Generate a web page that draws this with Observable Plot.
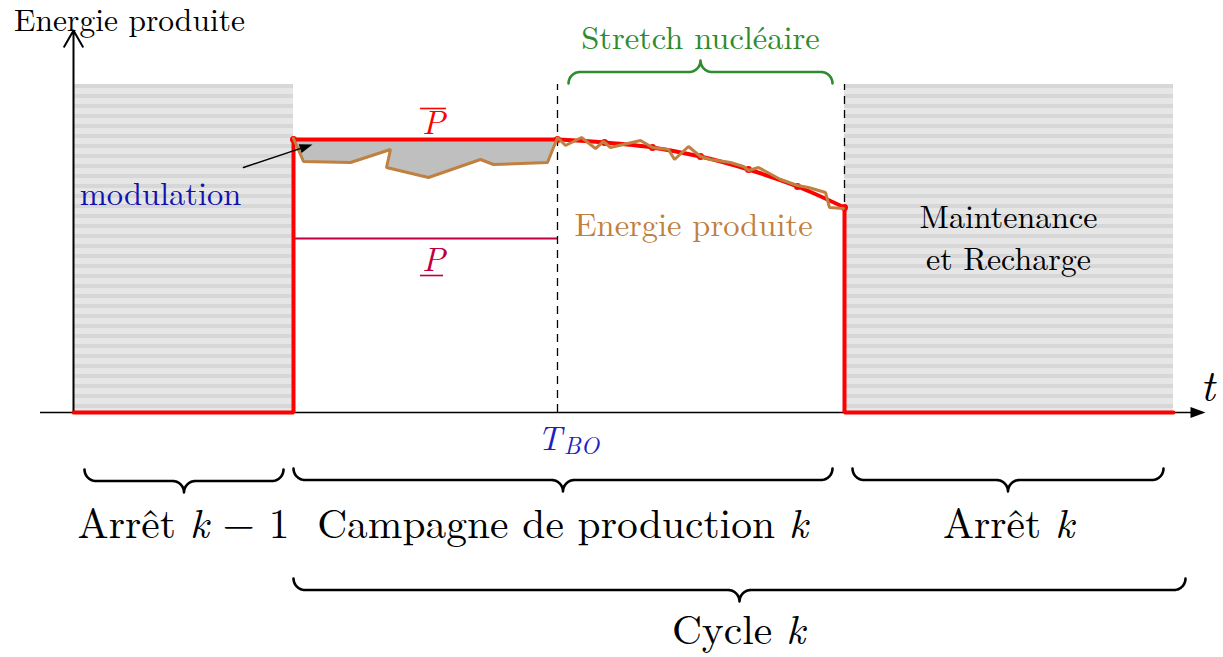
<!DOCTYPE html>
<html><head><meta charset="utf-8">
<script src="https://cdn.jsdelivr.net/npm/d3@7"></script>
<script src="https://cdn.jsdelivr.net/npm/@observablehq/plot@0.6"></script>
<style>
body{margin:0;background:#fff}
svg text, svg tspan{font-family:"Latin Modern Roman","Liberation Serif",serif !important}
</style>
</head><body><div id="chart"></div><script>
// ---- data (time on x, produced power on y; origin at the axes crossing) ----
const shutdownStart = [0, 771];
const shutdownEnd = [220, 1100];
const campaignStart = 220, T_BO = 484, campaignEnd = 771;
const Pmax = 273, Pmin = 174, shutdownLevel = 328;
const stretchT = [484, 531, 579, 627, 675, 724, 771];
const stretchP = [273, 270, 265, 256, 243, 226, 205];
const prodT = [220,230,277,317,313,355,407,420,474,484,492,508,522,530,537,567,579,595,601,615,627,637,657,670,675,685,707,724,735,752,756,770];
const prodP = [274,251,250,263,245,235,253,248,250,275,267,275,264,271,265,272,265,263,253,266,256,253,250,246,242,245,233,227,225,220,205,204];
// braces
const braceX1 = [11, 220, 779, 220, 495];
const braceX2 = [210, 759, 1090, 1112, 759];
const braceY = [-57, -56, -56, -166, 329];
const braceDir = [-1, -1, -1, -1, 1];
const braceColor = ["#000", "#000", "#000", "#000", "#2e8b2e"];
// labels
const labelText = ["Arrêt *k* − 1", "Campagne de production *k*", "Arrêt *k*", "Cycle *k*"];
const labelX = [110, 489, 935, 665];
const labelY = [-112, -112, -112, -218];
// "modulation" pointer (from, to)
const pointerFrom = [170, 245], pointerTo = [239, 268];

// ---- derived shapes ----
const redStep1 = [[0, 0], [campaignStart, 0], [campaignStart, Pmax], [T_BO, Pmax]];
const redStep2 = [[campaignEnd, stretchP[stretchP.length - 1]], [campaignEnd, 0], [shutdownEnd[1], 0]];
const stretch = stretchT.map((t, i) => [t, stretchP[i]]);
const prod = prodT.map((t, i) => ({t, p: prodP[i]}));
const modulationArea = prod.filter(d => d.t <= T_BO);
const redDots = [[campaignStart, Pmax], ...stretch];

function bracePoints(x1, x2, y, d, r, id) {
  const pts = [];
  const xm = (x1 + x2) / 2, n = 10;
  for (let i = 0; i <= n; i++) { const a = (i / n) * Math.PI / 2; pts.push({x: x1 + r - r * Math.cos(a), y: y + d * r * Math.sin(a), id}); }
  for (let i = 0; i <= n; i++) { const a = (i / n) * Math.PI / 2; pts.push({x: xm - r + r * Math.sin(a), y: y + 2 * d * r - d * r * Math.cos(a), id}); }
  for (let i = n; i >= 0; i--) { const a = (i / n) * Math.PI / 2; pts.push({x: xm + r - r * Math.sin(a), y: y + 2 * d * r - d * r * Math.cos(a), id}); }
  for (let i = n; i >= 0; i--) { const a = (i / n) * Math.PI / 2; pts.push({x: x2 - r + r * Math.cos(a), y: y + d * r * Math.sin(a), id}); }
  return pts;
}
const braces = braceX1.flatMap((x1, i) => bracePoints(x1, braceX2[i], braceY[i], braceDir[i], 11.5, i));

// filled arrow heads (latex style)
function head(tip, ux, uy, len, half) {
  const bx = tip[0] - ux * len, by = tip[1] - uy * len;
  return [[tip[0], tip[1]], [bx - uy * half, by + ux * half], [bx + uy * half, by - ux * half], [tip[0], tip[1]]];
}
const xArrowTip = [1132, 0];
const xHead = head(xArrowTip, 1, 0, 15, 5.5);
const pdx = pointerTo[0] - pointerFrom[0], pdy = pointerTo[1] - pointerFrom[1], plen = Math.hypot(pdx, pdy);
const pHead = head(pointerTo, pdx / plen, pdy / plen, 13, 4.5);
const pointerLine = [pointerFrom, [pointerTo[0] - pdx / plen * 10, pointerTo[1] - pdy / plen * 10]];

const shutdowns = shutdownStart.map((s, i) => ({s, e: shutdownEnd[i]}));

const FONT = "Latin Modern Roman";
const txt = (data, o) => Plot.text(data, {fontFamily: FONT, ...o});

const plot = Plot.plot({
  width: 1223, height: 657, margin: 0,
  x: {domain: [-73, 1150], axis: null},
  y: {domain: [-245, 412], axis: null},
  style: {background: "#fff", overflow: "visible"},
  marks: [
    Plot.rect(shutdowns, {x1: d => d.s, x2: d => d.e, y1: 0, y2: shutdownLevel, fill: "url(#stripes)"}),
    Plot.areaY(modulationArea, {x: "t", y1: Pmax, y2: "p", fill: "#bfbfbf", curve: "linear"}),
    Plot.ruleY([Pmin], {x1: campaignStart, x2: T_BO, stroke: "#bf0040", strokeWidth: 2.2}),
    Plot.ruleX([T_BO, campaignEnd], {y1: 0, y2: shutdownLevel, stroke: "#000", strokeWidth: 1.3, strokeDasharray: "8,6"}),
    Plot.ruleY([0], {x1: -33, x2: xArrowTip[0] - 10, stroke: "#000", strokeWidth: 1.5}),
    Plot.line(xHead, {fill: "#000", stroke: "none"}),
    Plot.arrow([0], {x1: 0, y1: 0, x2: 0, y2: 382, stroke: "#000", strokeWidth: 2, headLength: 14}),
    Plot.line(redStep1, {stroke: "#ff0000", strokeWidth: 4, strokeLinejoin: "miter"}),
    Plot.line(stretch, {stroke: "#ff0000", strokeWidth: 4, curve: "catmull-rom"}),
    Plot.line(redStep2, {stroke: "#ff0000", strokeWidth: 4, strokeLinejoin: "miter"}),
    Plot.dot(redDots, {r: 3.5, fill: "#ff0000"}),
    Plot.line(prod, {x: "t", y: "p", stroke: "#bf8040", strokeWidth: 3, strokeLinejoin: "miter"}),
    Plot.line(braces, {x: "x", y: "y", z: "id", stroke: (d) => braceColor[d.id], strokeWidth: 2.6}),
    Plot.line(pointerLine, {stroke: "#000", strokeWidth: 1.5}),
    Plot.line(pHead, {fill: "#000", stroke: "none"}),
    // overline / underline of P
    Plot.ruleY([Pmax + 31], {x1: 347, x2: 373, stroke: "#ff0000", strokeWidth: 1.6}),
    Plot.ruleY([Pmin - 37], {x1: 347, x2: 370, stroke: "#bf0040", strokeWidth: 1.6}),
    txt(["P"], {x: 360, y: Pmax + 16, fill: "#ff0000", fontSize: 34, fontStyle: "italic"}),
    txt(["P"], {x: 360, y: Pmin - 22, fill: "#bf0040", fontSize: 34, fontStyle: "italic"}),
    txt(["Energie produite"], {x: 56, y: 392, fontSize: 31.5, fill: "#000"}),
    txt(["t"], {x: 1134, y: 26, fontSize: 44, fontStyle: "italic", fill: "#000"}),
    txt(["Stretch nucléaire"], {x: 627, y: 374, fontSize: 32.5, fill: "#2e8b2e"}),
    txt(["Energie produite"], {x: 620, y: 187, fontSize: 32.5, fill: "#bf8040"}),
    txt(["modulation"], {x: 87, y: 218, fontSize: 32.5, fill: "#1212b0"}),
    txt(["Maintenance"], {x: 935, y: 194.5, fontSize: 32, fill: "#000"}),
    txt(["et Recharge"], {x: 935, y: 152.5, fontSize: 32, fill: "#000"}),
    txt(["T"], {x: 476, y: -27, fontSize: 34, fontStyle: "italic", fill: "#1e1ec4"}),
    txt(["BO"], {x: 508, y: -34, fontSize: 24, fontStyle: "italic", fill: "#1e1ec4"}),
    txt(labelText, {x: (d, i) => labelX[i], y: (d, i) => labelY[i], fontSize: 41.5, fill: "#000"})
  ]
});

// stripe pattern for the shutdown periods
const ns = "http://www.w3.org/2000/svg";
const defs = document.createElementNS(ns, "defs");
defs.innerHTML = '<pattern id="stripes" patternUnits="userSpaceOnUse" width="10" height="10" y="84"><rect width="10" height="10" fill="#e6e6e6"/><rect width="10" height="4" fill="#d7d7d7"/></pattern>';
plot.prepend(defs);

// italic math segments marked with *...*, and force the font on every text
plot.querySelectorAll("text").forEach(t => {
  t.setAttribute("font-family", FONT);
  t.style.fontFamily = "'" + FONT + "'";
  const s = t.textContent;
  if (!s.includes("*")) return;
  t.textContent = "";
  s.split("*").forEach((part, i) => {
    if (!part) return;
    const sp = document.createElementNS(ns, "tspan");
    sp.textContent = part;
    if (i % 2 === 1) sp.setAttribute("font-style", "italic");
    t.appendChild(sp);
  });
});

document.getElementById("chart").appendChild(plot);
</script></body></html>
